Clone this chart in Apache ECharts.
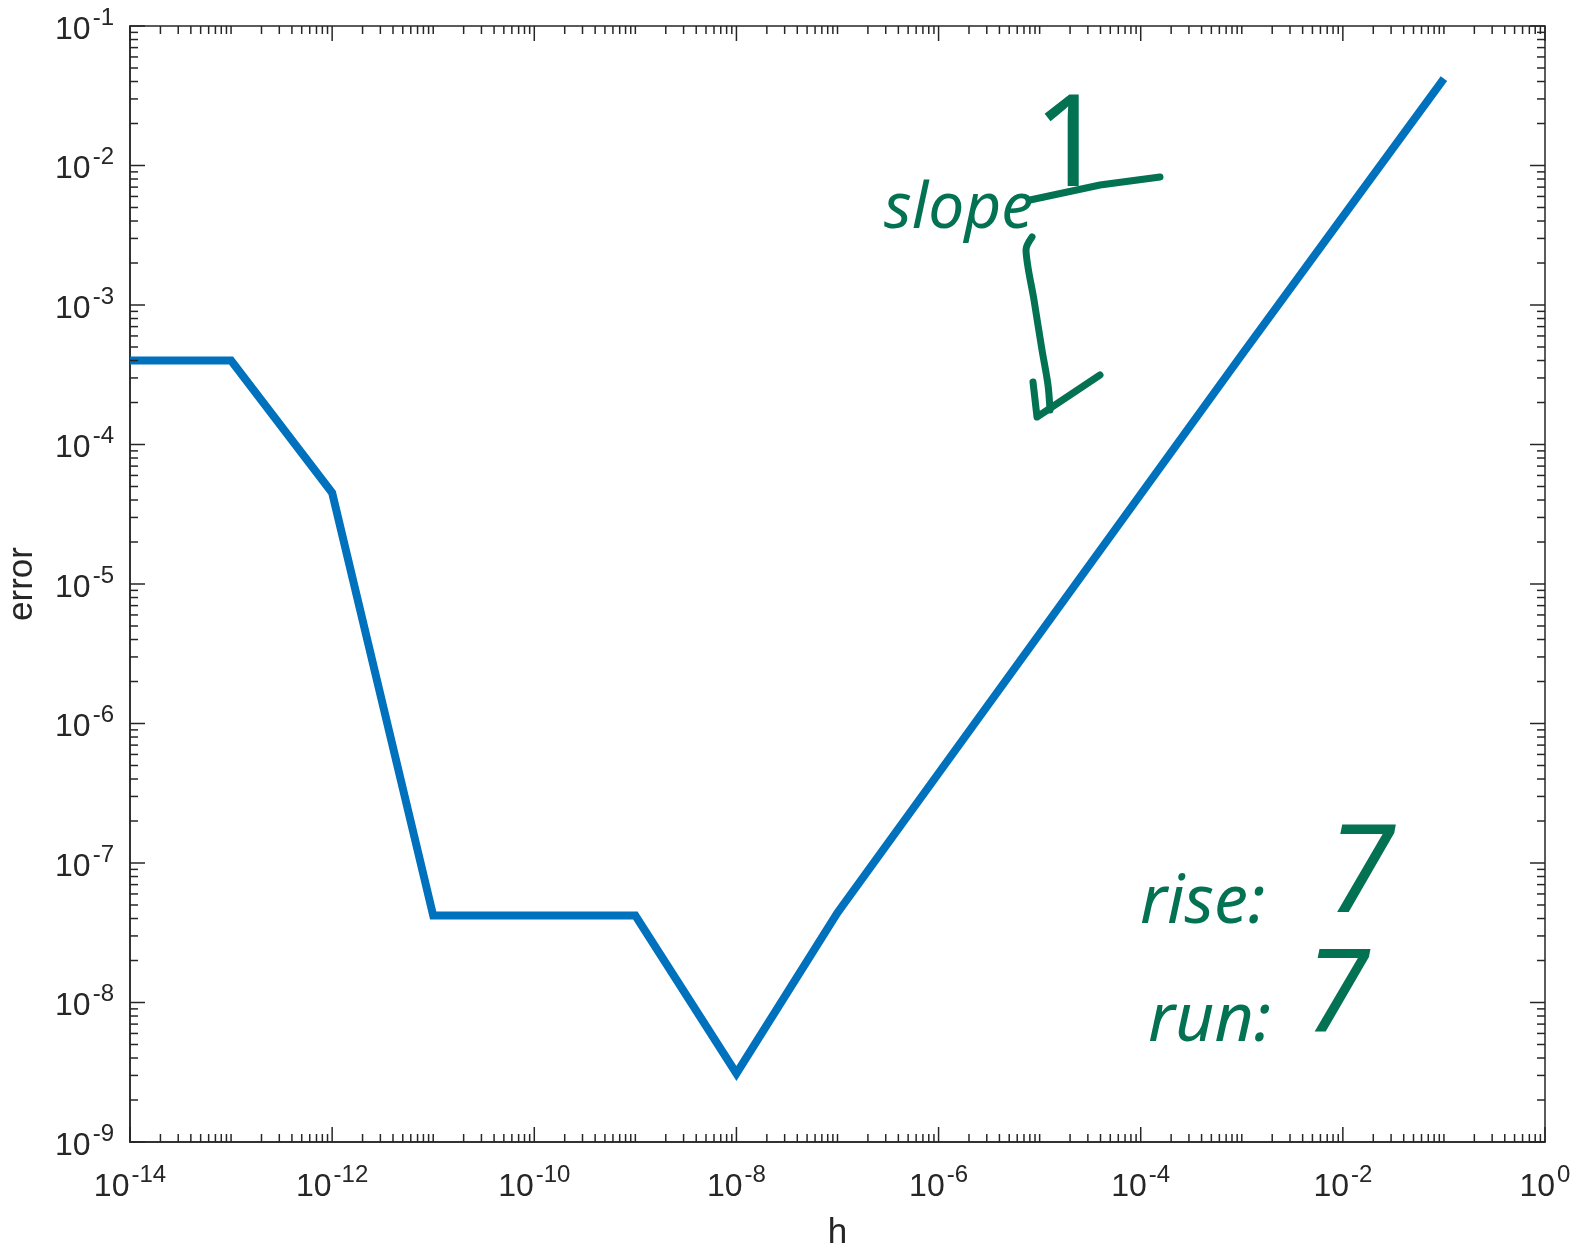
<!DOCTYPE html>
<html>
<head>
<meta charset="utf-8">
<script src="https://cdn.jsdelivr.net/npm/echarts@6/dist/echarts.min.js"></script>
<style>
  html, body { margin: 0; padding: 0; background: #fff; }
  #chart { width: 1574px; height: 1248px; }
</style>
</head>
<body>
<div id="chart"></div>
<script>
// step size h and the finite-difference error
const stepSizes = [1e-14, 1e-13, 1e-12, 1e-11, 1e-10, 1e-9, 1e-8, 1e-7, 1e-6, 1e-5, 1e-4, 1e-3, 1e-2, 1e-1];
const errors = [4.0e-4, 4.0e-4, 4.5e-5, 4.2e-8, 4.2e-8, 4.2e-8, 3.1e-9, 4.4e-8, 4.4e-7, 4.4e-6, 4.4e-5, 4.4e-4, 4.3e-3, 4.2e-2];

// labelled exponents on each axis
const xLabelExps = [-14, -12, -10, -8, -6, -4, -2, 0];
const yLabelExps = [-9, -8, -7, -6, -5, -4, -3, -2, -1];

const axisColor = '#262626';
const inkColor = '#027252';
const font = '"Liberation Sans", Arial, Helvetica, sans-serif';
const hand = '"Noto Sans", sans-serif';

// tick marks (MATLAB style, inside, on all four sides)
const MAJOR = 15, MINOR = 8;
const xTicks = [];
for (let e = -14; e <= 0; e++) {
  xTicks.push([Math.pow(10, e), 1e-5, xLabelExps.includes(e) ? MAJOR : MINOR]);
  if (e < 0) for (let k = 2; k <= 9; k++) xTicks.push([k * Math.pow(10, e), 1e-5, MINOR]);
}
const yTicks = [];
for (let e = -9; e <= -1; e++) {
  yTicks.push([1e-5, Math.pow(10, e), MAJOR]);
  if (e < -1) for (let k = 2; k <= 9; k++) yTicks.push([1e-5, k * Math.pow(10, e), MINOR]);
}

// 10 with a raised exponent
const richPow = {
  b: { fontFamily: font, fontSize: 32, lineHeight: 32, color: axisColor, fill: axisColor, verticalAlign: 'bottom' },
  s: { fontFamily: font, fontSize: 24, lineHeight: 40, color: axisColor, fill: axisColor, verticalAlign: 'top', padding: [0, 0, 0, 2] }
};
const powText = e => '{b|10}{s|' + e + '}';

const tickStyle = { stroke: axisColor, lineWidth: 1.5 };

const chart = echarts.init(document.getElementById('chart'));
chart.setOption({
  animation: false,
  backgroundColor: '#fff',
  grid: {
    left: 130, right: 29, top: 26, bottom: 106, outerBoundsMode: 'none', containLabel: false,
    show: true, borderColor: axisColor, borderWidth: 1.5, backgroundColor: 'transparent'
  },
  xAxis: {
    type: 'log', logBase: 10, min: 1e-14, max: 1, splitNumber: 14,
    name: 'h', nameLocation: 'middle', nameGap: 74,
    nameTextStyle: { fontFamily: font, fontSize: 35, color: axisColor },
    axisLine: { lineStyle: { color: axisColor, width: 1.5 } },
    axisTick: { show: false }, splitLine: { show: false }, minorTick: { show: false },
    axisLabel: { show: false }
  },
  yAxis: {
    type: 'log', logBase: 10, min: 1e-9, max: 1e-1, splitNumber: 8,
    name: 'error', nameLocation: 'middle', nameGap: 90,
    nameTextStyle: { fontFamily: font, fontSize: 35, color: axisColor },
    axisLine: { lineStyle: { color: axisColor, width: 1.5 } },
    axisTick: { show: false }, splitLine: { show: false }, minorTick: { show: false },
    axisLabel: {
      margin: 16,
      formatter: v => {
        const e = Math.round(Math.log10(v));
        return yLabelExps.includes(e) ? powText(e) : '';
      },
      rich: richPow
    }
  },
  series: [
    {
      type: 'line',
      data: stepSizes.map((h, i) => [h, errors[i]]),
      showSymbol: false,
      lineStyle: { color: '#0072BD', width: 8, join: 'miter', cap: 'butt' },
      z: 3
    },
    {
      // x tick labels, placed through the x scale
      type: 'custom', silent: true, clip: false, z: 4,
      data: xLabelExps.map(e => [Math.pow(10, e), 1e-5, e]),
      renderItem: (params, api) => {
        const cs = params.coordSys;
        const x = api.coord([api.value(0), api.value(1)])[0];
        return {
          type: 'text', x: x, y: cs.y + cs.height + 21,
          style: { text: powText(api.value(2)), rich: richPow, align: 'center', verticalAlign: 'top', fill: axisColor }
        };
      }
    },
    {
      type: 'custom', silent: true, clip: false, z: 4,
      data: xTicks,
      renderItem: (params, api) => {
        const cs = params.coordSys;
        const x = api.coord([api.value(0), api.value(1)])[0];
        const len = api.value(2);
        const bottom = cs.y + cs.height, top = cs.y;
        return {
          type: 'group', children: [
            { type: 'line', shape: { x1: x, y1: bottom, x2: x, y2: bottom - len }, style: tickStyle },
            { type: 'line', shape: { x1: x, y1: top, x2: x, y2: top + len }, style: tickStyle }
          ]
        };
      }
    },
    {
      type: 'custom', silent: true, clip: false, z: 4,
      data: yTicks,
      renderItem: (params, api) => {
        const cs = params.coordSys;
        const y = api.coord([api.value(0), api.value(1)])[1];
        const len = api.value(2);
        const left = cs.x, right = cs.x + cs.width;
        return {
          type: 'group', children: [
            { type: 'line', shape: { x1: left, y1: y, x2: left + len, y2: y }, style: tickStyle },
            { type: 'line', shape: { x1: right, y1: y, x2: right - len, y2: y }, style: tickStyle }
          ]
        };
      }
    }
  ],
  // handwritten annotations
  graphic: [
    {
      type: 'text', left: 884, top: 86, z: 10,
      style: {
        text: '{a|slope}{b|1}',
        rich: {
          a: { fontFamily: hand, fontStyle: 'italic', fontSize: 64, lineHeight: 64, fill: inkColor, verticalAlign: 'bottom' },
          b: { fontFamily: hand, fontSize: 128, lineHeight: 128, fill: inkColor, verticalAlign: 'bottom', padding: [0, 0, 28, 0] }
        }
      }
    },
    {
      type: 'polyline', z: 10,
      shape: { points: [[1030, 200], [1100, 185], [1160, 177]] },
      style: { stroke: inkColor, lineWidth: 7, lineCap: 'round', fill: null }
    },
    {
      type: 'polyline', z: 10,
      shape: { points: [[1032, 237], [1026, 250], [1034, 300], [1042, 350], [1048, 385], [1050, 410]], smooth: 0.3 },
      style: { stroke: inkColor, lineWidth: 7, lineCap: 'round', lineJoin: 'round', fill: null }
    },
    {
      type: 'polyline', z: 10,
      shape: { points: [[1033, 382], [1037, 417], [1100, 375]] },
      style: { stroke: inkColor, lineWidth: 7, lineCap: 'round', lineJoin: 'round', fill: null }
    },
    {
      type: 'text', left: 1140, top: 816, z: 10,
      style: {
        text: '{a|rise:}{b|7}',
        rich: {
          a: { fontFamily: hand, fontStyle: 'italic', fontSize: 68, lineHeight: 68, fill: inkColor, verticalAlign: 'bottom' },
          b: { fontFamily: hand, fontStyle: 'italic', fontSize: 122, lineHeight: 122, fill: inkColor, verticalAlign: 'bottom', padding: [0, 0, 0, 62] }
        }
      }
    },
    {
      type: 'text', left: 1148, top: 940, z: 10,
      style: {
        text: '{a|run:}{b|7}',
        rich: {
          a: { fontFamily: hand, fontStyle: 'italic', fontSize: 68, lineHeight: 68, fill: inkColor, verticalAlign: 'bottom' },
          b: { fontFamily: hand, fontStyle: 'italic', fontSize: 116, lineHeight: 116, fill: inkColor, verticalAlign: 'bottom', padding: [0, 0, 0, 34] }
        }
      }
    }
  ]
});
</script>
</body>
</html>
